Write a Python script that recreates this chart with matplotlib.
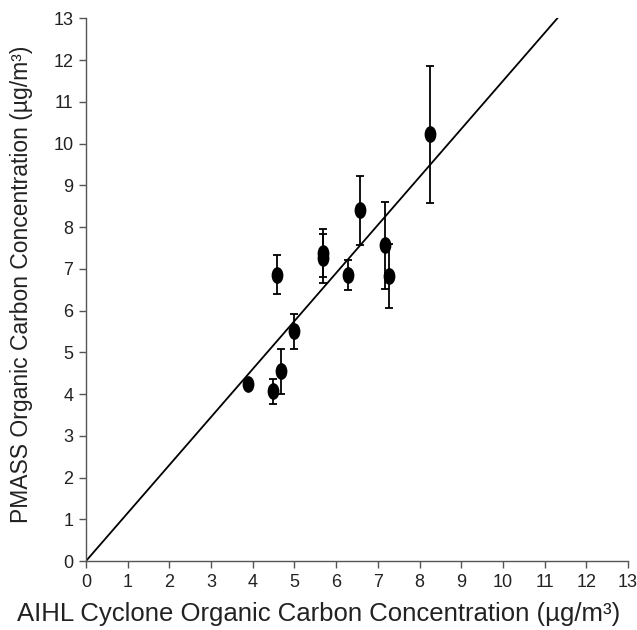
import matplotlib
matplotlib.use("Agg")
import matplotlib.pyplot as plt
from matplotlib.path import Path
from matplotlib.transforms import Affine2D
import numpy as np

plt.rcParams['font.family'] = ['Liberation Sans', 'DejaVu Sans']

# AIHL cyclone vs PMASS organic carbon (µg/m³)
aihl_oc = [3.88, 4.48, 4.68, 4.58, 4.98, 5.68, 5.68, 6.28, 6.57, 7.17, 7.27, 8.26]
pmass_oc = [4.25, 4.07, 4.55, 6.86, 5.50, 7.38, 7.25, 6.86, 8.40, 7.56, 6.83, 10.22]
pmass_err = [0.0, 0.30, 0.54, 0.47, 0.42, 0.58, 0.58, 0.36, 0.82, 1.04, 0.76, 1.64]

# fitted line through origin
fit_slope = 1.15
axis_max = 13
ticks = list(range(0, 14))

fig = plt.figure(figsize=(6.37, 6.30), dpi=100)
ax = fig.add_axes([0.135, 0.1095, 0.851, 0.8615])

# vertically elongated ellipse marker
ellipse = Path.unit_circle().transformed(Affine2D().scale(0.68, 1.0))

ax.errorbar(aihl_oc, pmass_oc, yerr=pmass_err, fmt='none', ecolor='black',
            elinewidth=1.3, capsize=3.0, capthick=1.3, zorder=2)
ax.plot(aihl_oc, pmass_oc, linestyle='none', marker=ellipse, markersize=11,
        color='black', zorder=3)

fx = np.array([0, axis_max / fit_slope])
ax.plot(fx, fit_slope * fx, color='black', linewidth=1.3, zorder=1)

ax.set_xlim(0, axis_max)
ax.set_ylim(0, axis_max)
ax.set_xticks(ticks)
ax.set_yticks(ticks)
ax.spines['top'].set_visible(False)
ax.spines['right'].set_visible(False)
for s in ('left', 'bottom'):
    ax.spines[s].set_color('#555555')
    ax.spines[s].set_linewidth(1.0)
ax.tick_params(direction='out', length=5, width=1.0, color='#555555',
               labelsize=13, labelcolor='#222222', pad=4)

ax.set_xlabel('AIHL Cyclone Organic Carbon Concentration (µg/m³)',
              fontsize=18.5, color='#222222')
ax.set_ylabel('PMASS Organic Carbon Concentration (µg/m³)',
              fontsize=16.5, color='#222222')
ax.xaxis.set_label_coords(0.43, -0.075)
ax.yaxis.set_label_coords(-0.098, 0.51)

fig.savefig('out.png', dpi=100)
